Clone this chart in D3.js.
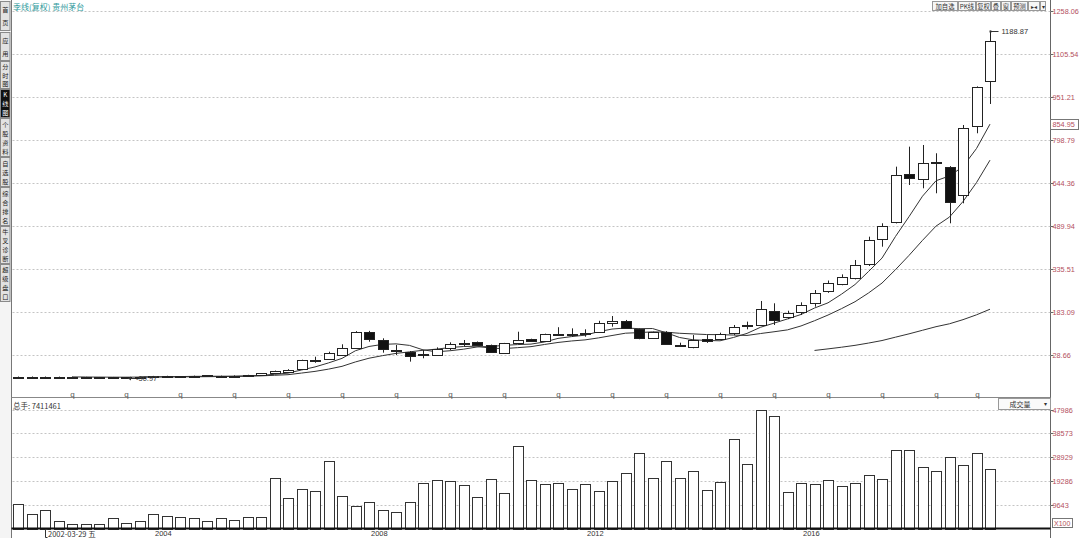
<!DOCTYPE html>
<html><head><meta charset="utf-8">
<script src="https://cdn.jsdelivr.net/npm/d3@7"></script>
<style>
body{margin:0;background:#fff;}
svg{display:block;font-family:"Liberation Sans","Noto Sans CJK SC",sans-serif;}
.cjk{font-family:"Noto Sans CJK SC","Liberation Sans",sans-serif;}
</style></head><body><svg id="c" width="1080" height="538"></svg>
<script>
const quarters = [
 "2001Q3","2001Q4",
 "2002Q1","2002Q2","2002Q3","2002Q4","2003Q1","2003Q2","2003Q3","2003Q4",
 "2004Q1","2004Q2","2004Q3","2004Q4","2005Q1","2005Q2","2005Q3","2005Q4",
 "2006Q1","2006Q2","2006Q3","2006Q4","2007Q1","2007Q2","2007Q3","2007Q4",
 "2008Q1","2008Q2","2008Q3","2008Q4","2009Q1","2009Q2","2009Q3","2009Q4",
 "2010Q1","2010Q2","2010Q3","2010Q4","2011Q1","2011Q2","2011Q3","2011Q4",
 "2012Q1","2012Q2","2012Q3","2012Q4","2013Q1","2013Q2","2013Q3","2013Q4",
 "2014Q1","2014Q2","2014Q3","2014Q4","2015Q1","2015Q2","2015Q3","2015Q4",
 "2016Q1","2016Q2","2016Q3","2016Q4","2017Q1","2017Q2","2017Q3","2017Q4",
 "2018Q1","2018Q2","2018Q3","2018Q4","2019Q1","2019Q2","2019Q3"];
const openP = [-47.5,-47.8,-48.2,-48.6,-49.0,-49.4,-49.6,-49.8,-50.0,-49.2,
 -47.5,-45.5,-46.0,-47.5,-43.0,-46.0,-44.0,-45.0,-42.0,-35.0,
 -30.0,-20.0,11.0,15.4,29.7,55.8,111.0,83.4,46.0,41.5,
 32.5,29.7,54.0,71.0,76.0,65.5,38.0,71.5,85.5,79.8,
 104.0,105.0,107.0,111.0,144.0,152.0,122.0,90.0,113.0,66.0,
 59.4,86.0,87.0,107.3,136.0,137.0,188.0,165.0,182.4,214.6,
 258.0,284.0,304.0,354.0,444.5,504.2,675.8,658.0,720.8,703.0,
 601.8,848.5,1009.4];
const highP = [-46.8,-47.0,-47.2,-47.5,-48.2,-48.5,-48.9,-48.8,-48.9,-47.0,
 -45.0,-44.5,-45.5,-44.0,-42.0,-44.0,-43.0,-41.0,-35.0,-26.0,
 -21.0,13.0,23.6,41.5,68.0,115.0,116.0,89.4,65.5,44.0,
 47.6,57.0,75.0,83.4,78.0,67.0,73.0,113.0,88.0,106.0,
 129.0,125.0,121.6,152.0,169.0,155.0,124.0,113.0,115.0,73.7,
 101.0,101.0,109.5,137.0,149.0,222.8,214.6,188.0,218.0,262.0,
 296.0,318.0,369.4,452.7,500.6,703.0,774.5,780.5,750.9,705.0,
 852.0,990.0,1188.87];
const lowP = [-48.5,-49.0,-49.5,-49.8,-50.2,-50.3,-50.5,-50.6,-50.97,-50.0,
 -48.5,-48.0,-48.5,-48.0,-47.0,-47.0,-47.5,-46.0,-43.0,-36.0,
 -33.0,-22.0,2.0,14.0,28.0,54.0,77.3,38.0,29.7,6.0,
 18.0,28.0,47.6,61.9,64.0,40.0,36.0,70.0,78.0,78.0,
 97.7,95.0,95.2,110.0,131.0,123.0,86.0,88.0,68.0,59.5,
 53.7,73.0,85.0,101.0,121.6,135.0,137.0,158.0,172.7,202.4,
 252.0,279.0,300.0,347.9,416.9,500.0,637.5,625.7,607.9,500.6,
 572.1,822.4,927.1];
const closeP = [-47.8,-48.2,-48.6,-49.0,-49.4,-49.6,-49.8,-50.0,-49.2,-47.5,
 -46.0,-47.0,-47.5,-45.0,-46.0,-45.0,-46.0,-42.0,-36.0,-27.5,
 -24.0,10.5,12.5,35.8,53.7,113.0,86.0,50.0,45.0,26.2,
 33.5,51.2,69.0,72.5,66.0,41.5,71.5,83.4,81.0,104.0,
 105.5,104.0,108.5,143.0,151.0,125.0,92.0,111.0,69.0,65.0,
 83.4,81.0,104.0,128.8,137.5,193.0,155.0,179.0,208.5,252.5,
 286.0,310.0,351.5,441.0,492.0,673.3,663.6,717.3,717.3,577.8,
 840.3,986.8,1153.4];
const volume = [9814,6000,7360,3000,1900,1900,1640,4360,2180,3000,
 6000,5180,4770,4090,3135,4360,3270,4500,4770,20450,
 12540,16080,15270,27260,13090,9270,10630,7630,6540,10630,
 18400,19490,19080,17450,12950,20170,14180,33260,19490,17860,
 18400,16080,17860,15270,19080,22630,30530,20450,27260,20310,
 23170,15400,18670,36120,26030,47986,45390,14580,18400,17860,
 19490,17310,18400,21540,19900,31890,31890,24810,23440,28900,
 25900,30670,23990];
const priceTicks = [1258.06,1105.54,951.21,798.79,644.36,489.94,335.51,183.09,28.66];
const priceTickLabels = ["1258.06","1105.54","951.21","798.79","644.36","489.94","335.51","183.09","28.66"];
const volumeTicks = [47986,38573,28929,19286,9643];
const yearQuarters = ["2004Q1","2008Q1","2012Q1","2016Q1"];
const yearLabels = ["2004","2008","2012","2016"];
const cursorQuarter = "2002Q1";
const cursorLabel = "2002-03-29 五";
const dividendQuarters = ["2002Q3","2003Q3","2004Q3","2005Q3","2006Q3","2007Q3","2008Q3","2009Q3","2010Q3","2011Q3","2012Q3","2013Q3","2014Q3","2015Q3","2016Q3","2017Q3","2018Q3","2019Q2"];
const maPeriods = [5,10,60];
const markerPrice = 854.95;
const sideTabs = ["首页","应用","分时图","K线图","个股资料","自选股","综合排名","牛叉诊断","超级盘口"];
const toolButtons = ["加自选","PK线","复权","叠","窗","预测","▸◂","▾"];
const titleText = "季线(复权)  贵州茅台";
const volumeTitle = "总手: 7411461";
const volumeUnit = "X100";

const W = 1080, H = 538;
const svg = d3.select("#c");
const plotL = 11.5, plotR = 1050.5;
const priceTop = 11, priceBot = 397.5, volTop = 398, volBot = 528.5;
const red = "#b4505e";

const x = d3.scalePoint().domain(quarters).range([11.25, 996.75]).padding(0.5);
const y = d3.scaleLinear().domain([28.66, 1258.06]).range([355.3, 11.4]);
const yv = d3.scaleLinear().domain([0, 47986]).range([volBot, 410]);
const cx = q => Math.round(x(q));

// sidebar
const side = svg.append("g");
side.append("rect").attr("x",0).attr("y",0).attr("width",11).attr("height",H).attr("fill","#f4f4f4");
const tabY = [[1,31],[32,61],[61,89],[89,118],[118,157],[157,187],[187,226],[226,264],[264,302]];
sideTabs.forEach((t,i)=>{
  const [a,b] = tabY[i]; const active = t==="K线图";
  side.append("rect").attr("x",0.5).attr("y",a+0.5).attr("width",9.5).attr("height",b-a-1)
    .attr("fill",active?"#111":"#e2e2e2").attr("stroke","#8a8a8a").attr("stroke-width",1);
  const chars=[...t]; const step=(b-a-3)/chars.length;
  chars.forEach((c,j)=> side.append("text").attr("class","cjk").attr("x",5.3).attr("y",a+1.5+step*(j+0.5))
    .attr("text-anchor","middle").attr("dominant-baseline","central").attr("font-size",6.2)
    .attr("fill",active?"#fff":"#222").text(c));
});

// frame lines
svg.append("line").attr("x1",plotL).attr("x2",plotL).attr("y1",0).attr("y2",H).attr("stroke","#777");
svg.append("line").attr("x1",plotR).attr("x2",plotR).attr("y1",0).attr("y2",H).attr("stroke","#666");
svg.append("line").attr("x1",plotL).attr("x2",plotR).attr("y1",priceBot).attr("y2",priceBot).attr("stroke","#888");

// title
svg.append("text").attr("class","cjk").attr("x",13).attr("y",6).attr("dominant-baseline","central")
  .attr("font-size",8).attr("fill","#2f9a9c").text(titleText);

// toolbar buttons
let bx = 932;
const bw = [26,18,15,10,10,17,12,6];
toolButtons.forEach((t,i)=>{
  svg.append("rect").attr("x",bx+0.5).attr("y",1.5).attr("width",bw[i]-1).attr("height",9)
    .attr("fill","#f6f6f6").attr("stroke","#999");
  svg.append("text").attr("class","cjk").attr("x",bx+bw[i]/2).attr("y",6.3).attr("text-anchor","middle")
    .attr("dominant-baseline","central").attr("font-size",6.3).attr("fill","#333").text(t);
  bx += bw[i];
});

// price grid
priceTicks.forEach((v,i)=>{
  const yy = Math.round(y(v))+0.5;
  svg.append("line").attr("x1",plotL+1).attr("x2",plotR).attr("y1",yy).attr("y2",yy)
    .attr("stroke","#c4c4c4").attr("stroke-dasharray","2,2");
  svg.append("line").attr("x1",plotR).attr("x2",plotR+3).attr("y1",yy).attr("y2",yy).attr("stroke","#666");
  svg.append("text").attr("x",1052.5).attr("y",yy).attr("dominant-baseline","central")
    .attr("font-size",7.3).attr("fill",red).text(priceTickLabels[i]);
});
// current marker box
{
  const yy = Math.round(y(markerPrice))+0.5;
  svg.append("rect").attr("x",plotR).attr("y",yy-5).attr("width",28).attr("height",10)
    .attr("fill","#fff").attr("stroke","#777");
  svg.append("text").attr("x",1052.5).attr("y",yy).attr("dominant-baseline","central")
    .attr("font-size",7.3).attr("fill",red).text(markerPrice.toFixed(2));
}

// moving averages
const gMA = svg.append("g");
maPeriods.forEach(p=>{
  const pts = [];
  for (let i=p-1;i<closeP.length;i++){
    pts.push([x(quarters[i]), y(d3.mean(closeP.slice(i-p+1,i+1)))]);
  }
  gMA.append("path").attr("d", d3.line()(pts)).attr("fill","none").attr("stroke","#333").attr("stroke-width",1);
});

// candles
const gC = svg.append("g");
quarters.forEach((q,i)=>{
  const c = cx(q)+0.5;
  const o = openP[i], h = highP[i], l = lowP[i], cl = closeP[i];
  const up = cl >= o;
  const top = Math.round(y(Math.max(o,cl))), bot = Math.round(y(Math.min(o,cl)));
  gC.append("line").attr("x1",c).attr("x2",c).attr("y1",y(h)).attr("y2",y(l)).attr("stroke","#222");
  gC.append("rect").attr("x",c-5).attr("y",top+0.5).attr("width",10).attr("height",Math.max(bot-top,1))
    .attr("fill",up?"#fff":"#111").attr("stroke","#222").attr("stroke-width",1);
});

// high / low annotations
{
  const iH = d3.maxIndex(highP), iL = d3.minIndex(lowP);
  const hx = cx(quarters[iH])+0.5, hy = Math.round(y(highP[iH]))+0.5;
  svg.append("line").attr("x1",hx).attr("x2",hx+8).attr("y1",hy).attr("y2",hy).attr("stroke","#333");
  svg.append("rect").attr("x",hx-1).attr("y",hy-1).attr("width",2).attr("height",2).attr("fill","#333");
  svg.append("text").attr("x",hx+11).attr("y",hy).attr("dominant-baseline","central")
    .attr("font-size",7.5).attr("fill","#333").text(highP[iH].toFixed(2));
  const lx = cx(quarters[iL])+2, ly = Math.round(y(lowP[iL]))+0.5;
  svg.append("line").attr("x1",lx).attr("x2",lx+7).attr("y1",ly).attr("y2",ly).attr("stroke","#333");
  svg.append("path").attr("d",`M${lx},${ly}l3,-2v4z`).attr("fill","#333");
  svg.append("text").attr("x",lx+8).attr("y",ly).attr("dominant-baseline","central")
    .attr("font-size",7.5).attr("fill","#444").text(lowP[iL].toFixed(2));
}

// dividend markers
dividendQuarters.forEach(q=>{
  svg.append("text").attr("x",cx(q)+0.5).attr("y",394).attr("text-anchor","middle")
    .attr("dominant-baseline","central").attr("font-size",8).attr("fill","#555").text("q");
});

// volume panel
svg.append("text").attr("class","cjk").attr("x",13).attr("y",405).attr("dominant-baseline","central")
  .attr("font-size",7.5).attr("fill","#333").text(volumeTitle);
svg.append("rect").attr("x",998.5).attr("y",398.5).attr("width",52).attr("height",11).attr("fill","#fafafa").attr("stroke","#999");
svg.append("text").attr("class","cjk").attr("x",1020).attr("y",404.3).attr("text-anchor","middle")
  .attr("dominant-baseline","central").attr("font-size",7).attr("fill","#333").text("成交量");
svg.append("text").attr("x",1045).attr("y",404).attr("text-anchor","middle")
  .attr("dominant-baseline","central").attr("font-size",6).attr("fill","#333").text("▾");

volumeTicks.forEach(v=>{
  const yy = Math.round(yv(v))+0.5;
  svg.append("line").attr("x1",plotL+1).attr("x2",plotR).attr("y1",yy).attr("y2",yy)
    .attr("stroke","#c4c4c4").attr("stroke-dasharray","2,2");
  svg.append("line").attr("x1",plotR).attr("x2",plotR+3).attr("y1",yy).attr("y2",yy).attr("stroke","#666");
  svg.append("text").attr("x",1052.5).attr("y",yy).attr("dominant-baseline","central")
    .attr("font-size",7.3).attr("fill",red).text(v);
});
svg.append("rect").attr("x",1052.5).attr("y",518.5).attr("width",20).attr("height",9).attr("fill","none").attr("stroke","#777");
svg.append("text").attr("x",1054).attr("y",523.5).attr("dominant-baseline","central")
  .attr("font-size",7).attr("fill",red).text(volumeUnit);

const gV = svg.append("g");
quarters.forEach((q,i)=>{
  const c = cx(q)+0.5;
  const top = Math.round(yv(volume[i]));
  gV.append("rect").attr("x",c-5).attr("y",top+0.5).attr("width",10).attr("height",Math.round(volBot)-top)
    .attr("fill","#fff").attr("stroke","#333").attr("stroke-width",1);
});
svg.append("line").attr("x1",plotL).attr("x2",plotR).attr("y1",volBot).attr("y2",volBot).attr("stroke","#111").attr("stroke-width",2);

// x labels
yearQuarters.forEach((q,i)=>{
  svg.append("text").attr("x",cx(q)+2).attr("y",533.5).attr("dominant-baseline","central")
    .attr("font-size",7.5).attr("fill","#333").text(yearLabels[i]);
});
{
  const c = cx(cursorQuarter);
  svg.append("path").attr("d",`M${c+2.5},529.5h-2v8h2`).attr("fill","none").attr("stroke","#333");
  svg.append("text").attr("class","cjk").attr("x",c+3).attr("y",533.5).attr("dominant-baseline","central")
    .attr("font-size",7.5).attr("fill","#333").text(cursorLabel);
}
</script></body></html>
